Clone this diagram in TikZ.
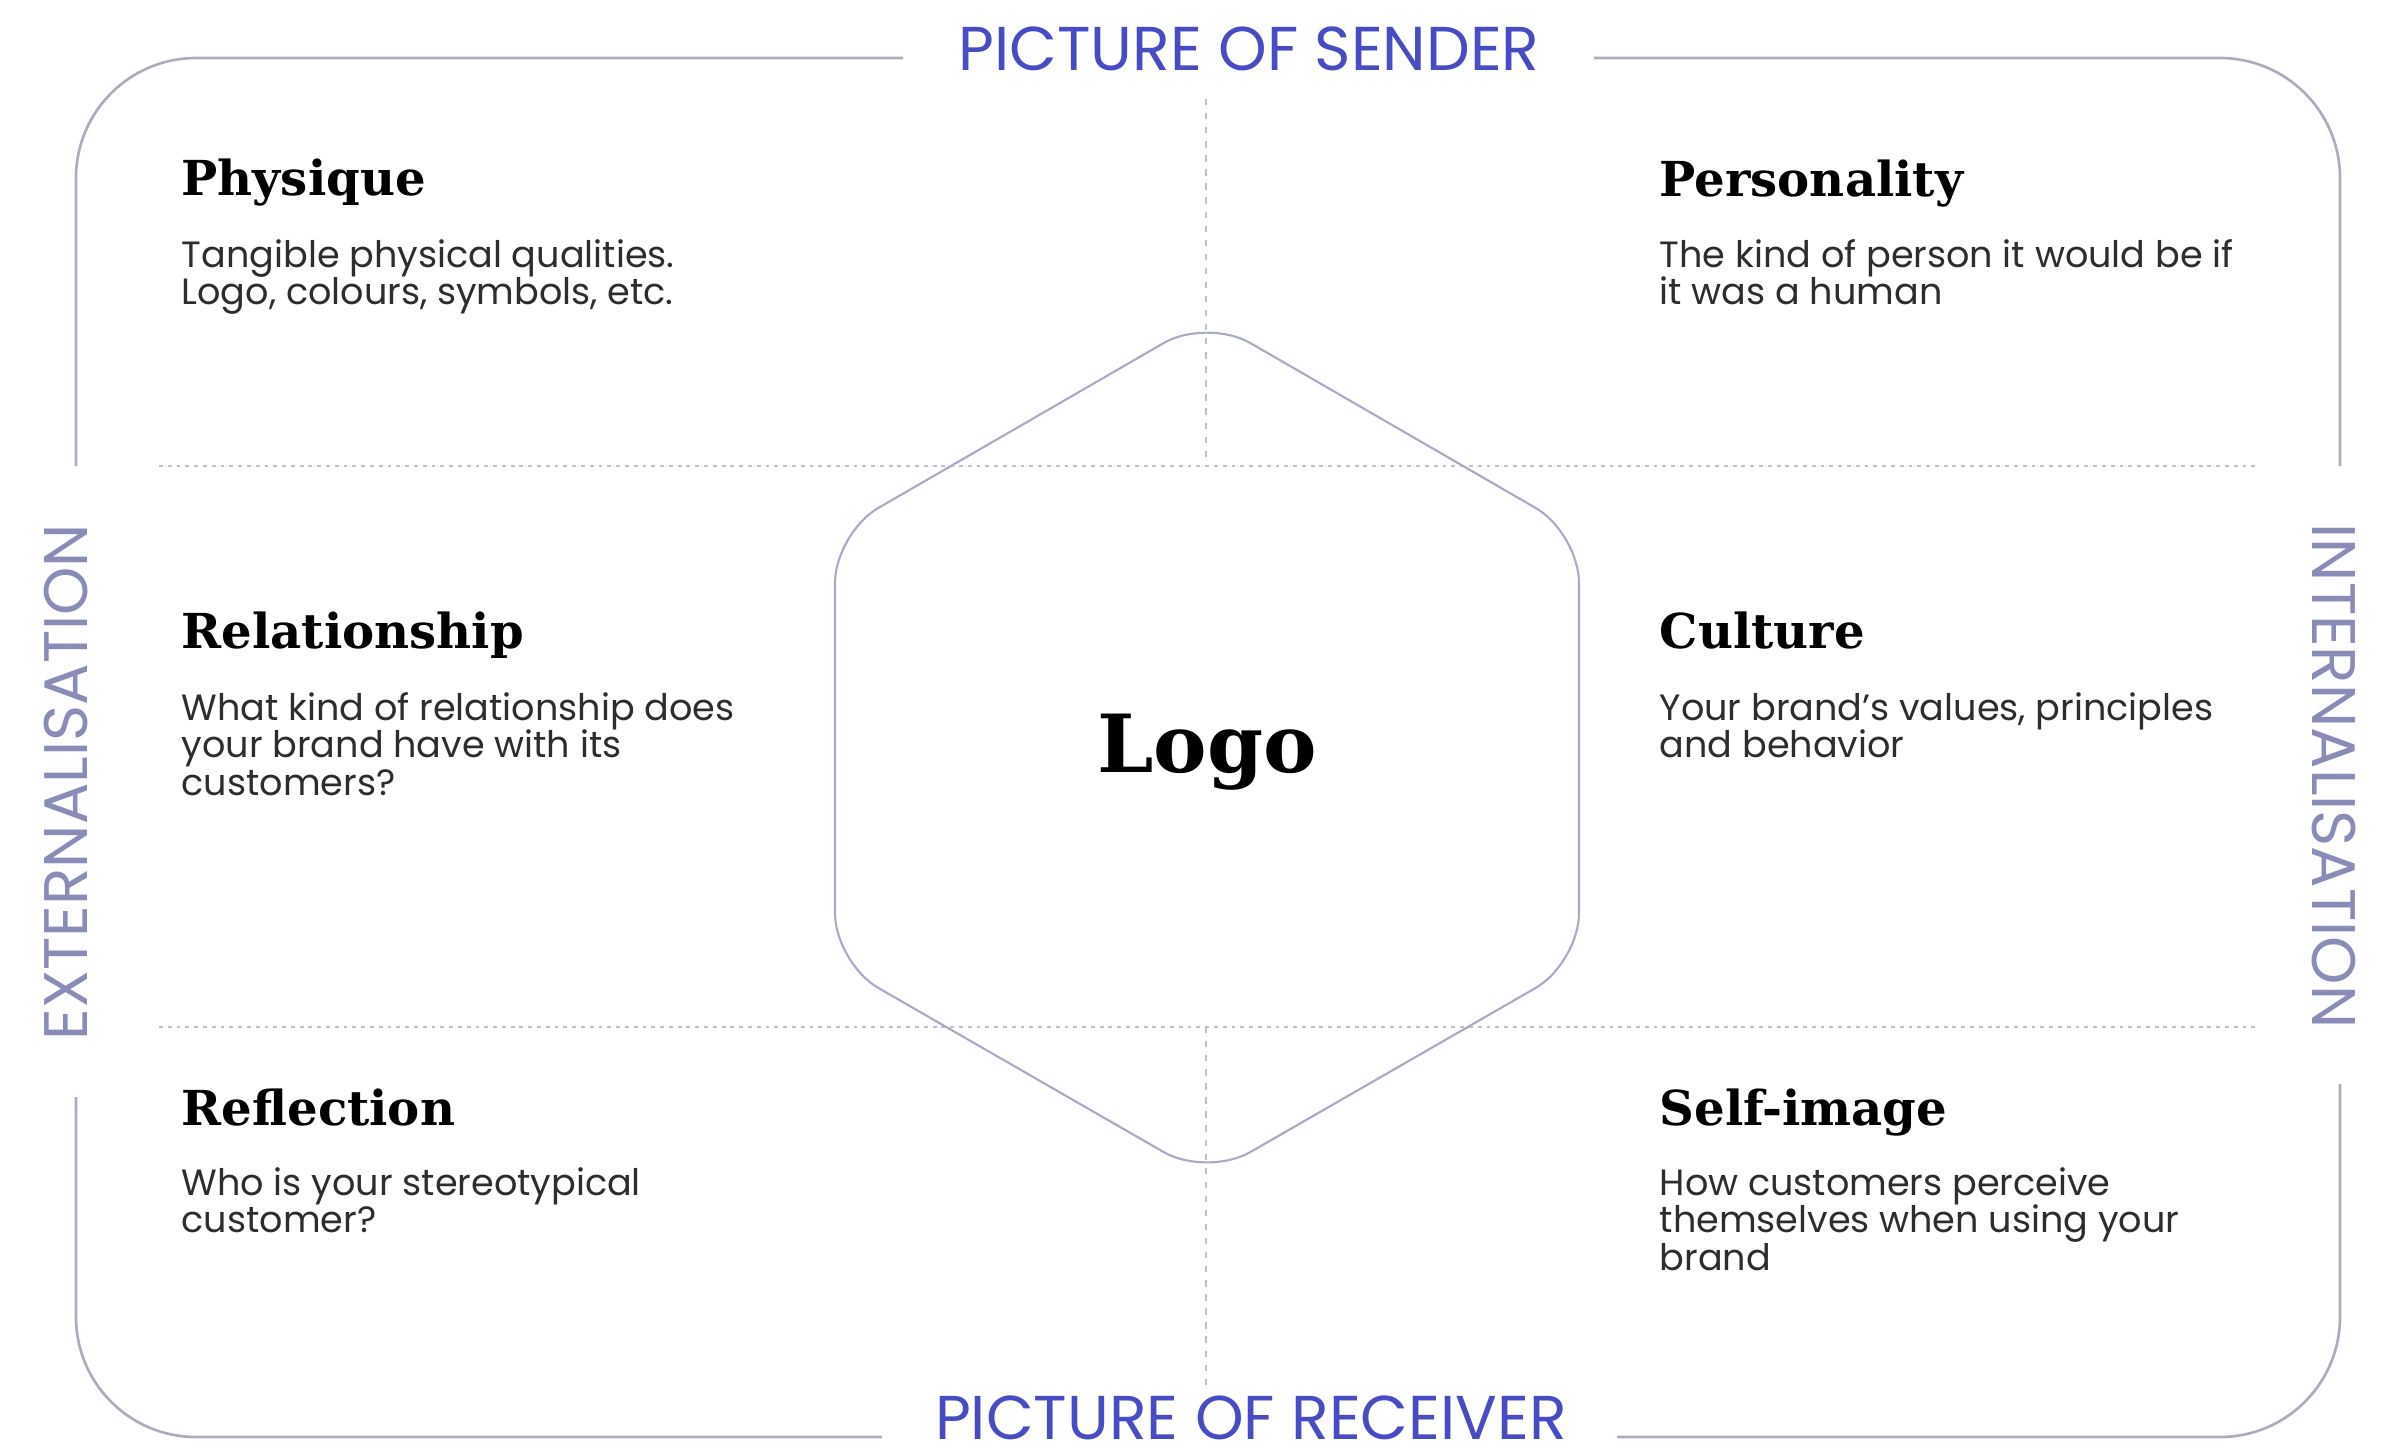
\documentclass[tikz,border=0pt]{standalone}
\usepackage{fontspec}
\newfontfamily\headfont{DejaVu Serif}
\newfontfamily\bodyfont{Poppins}

\definecolor{titleblue}{RGB}{72,76,196}
\definecolor{sidegray}{RGB}{138,140,184}
\definecolor{framegray}{RGB}{172,172,188}
\definecolor{dotgray}{RGB}{192,192,204}
\definecolor{hexgray}{RGB}{168,170,198}
\definecolor{textgray}{RGB}{45,45,48}

\begin{document}
\begin{tikzpicture}[x=0.01cm, y=-0.01cm,
  frame/.style={draw=framegray, line width=0.75pt, rounded corners=1.2cm},
  dotline/.style={draw=dotgray, line width=0.7pt, dash pattern=on 1.1pt off 1.4pt},
  vdotline/.style={draw=dotgray, line width=0.6pt, dash pattern=on 1.8pt off 2.2pt},
  hexline/.style={draw=hexgray, line width=0.6pt, rounded corners=0.5cm},
  axistitle/.style={inner sep=0, anchor=base, text=titleblue,
    font=\bodyfont\fontsize{17.6pt}{20pt}\selectfont},
  sidetitle/.style={inner sep=0, text=sidegray,
    font=\bodyfont\fontsize{17.5pt}{20pt}\selectfont},
  heading/.style={inner sep=0, anchor=base west,
    font=\headfont\bfseries\fontsize{13.7pt}{16pt}\selectfont},
  bodytext/.style={inner sep=0, anchor=base west, text=textgray,
    font=\bodyfont\fontsize{10.4pt}{10.8pt}\selectfont},
  logotext/.style={inner sep=0, anchor=base,
    font=\headfont\bfseries\fontsize{22.8pt}{26pt}\selectfont}
]
\fill[white] (0,0) rectangle (2396,1454);
\useasboundingbox (0,0) rectangle (2396,1454);

% outer rounded frame, broken where the four axis labels sit
\draw[frame] (76,466) -- (76,58) -- (903,58);
\draw[frame] (1594,58) -- (2340,58) -- (2340,466);
\draw[frame] (76,1097) -- (76,1437) -- (882,1437);
\draw[frame] (1617,1437) -- (2340,1437) -- (2340,1084);

% dotted grid lines
\draw[dotline] (159,466) -- (2255,466);
\draw[dotline] (159,1027) -- (2255,1027);
\draw[vdotline] (1206,99) -- (1206,466);
\draw[vdotline] (1206,1027) -- (1206,1392);

% central hexagon
\draw[hexline] (1207,318) -- (1579,533) -- (1579,963) -- (1207,1177)
  -- (835,963) -- (835,533) -- cycle;
\node[logotext] (logo) at (1207,772) {Logo};

% axis labels
\node[axistitle] (sender) at (1249,70) {PICTURE OF SENDER};
\node[axistitle] (receiver) at (1251,1439) {PICTURE OF RECEIVER};
\node[sidetitle, rotate=90] (ext) at (66,782) {EXTERNALISATION};
\node[sidetitle, rotate=-90] (int) at (2334,776) {INTERNALISATION};

% the six prism facets
\node[heading] (physique) at (181,195) {Physique};
\node[bodytext] (physiquetxt) at (181,267)
  {\vtop{\hbox{Tangible physical qualities.}\hbox{Logo, colours, symbols, etc.}}};

\node[heading] (personality) at (1659,196) {Personality};
\node[bodytext] (personalitytxt) at (1659,267)
  {\vtop{\hbox{The kind of person it would be if}\hbox{it was a human}}};

\node[heading] (relationship) at (181,648) {Relationship};
\node[bodytext] (relationshiptxt) at (181,720)
  {\vtop{\hbox{What kind of relationship does}\hbox{your brand have with its}\hbox{customers?}}};

\node[heading] (culture) at (1659,648) {Culture};
\node[bodytext] (culturetxt) at (1659,720)
  {\vtop{\hbox{Your brand’s values, principles}\hbox{and behavior}}};

\node[heading] (reflection) at (181,1125) {Reflection};
\node[bodytext] (reflectiontxt) at (181,1195)
  {\vtop{\hbox{Who is your stereotypical}\hbox{customer?}}};

\node[heading] (selfimage) at (1659,1125) {Self-image};
\node[bodytext] (selfimagetxt) at (1659,1195)
  {\vtop{\hbox{How customers perceive}\hbox{themselves when using your}\hbox{brand}}};
\end{tikzpicture}
\end{document}
